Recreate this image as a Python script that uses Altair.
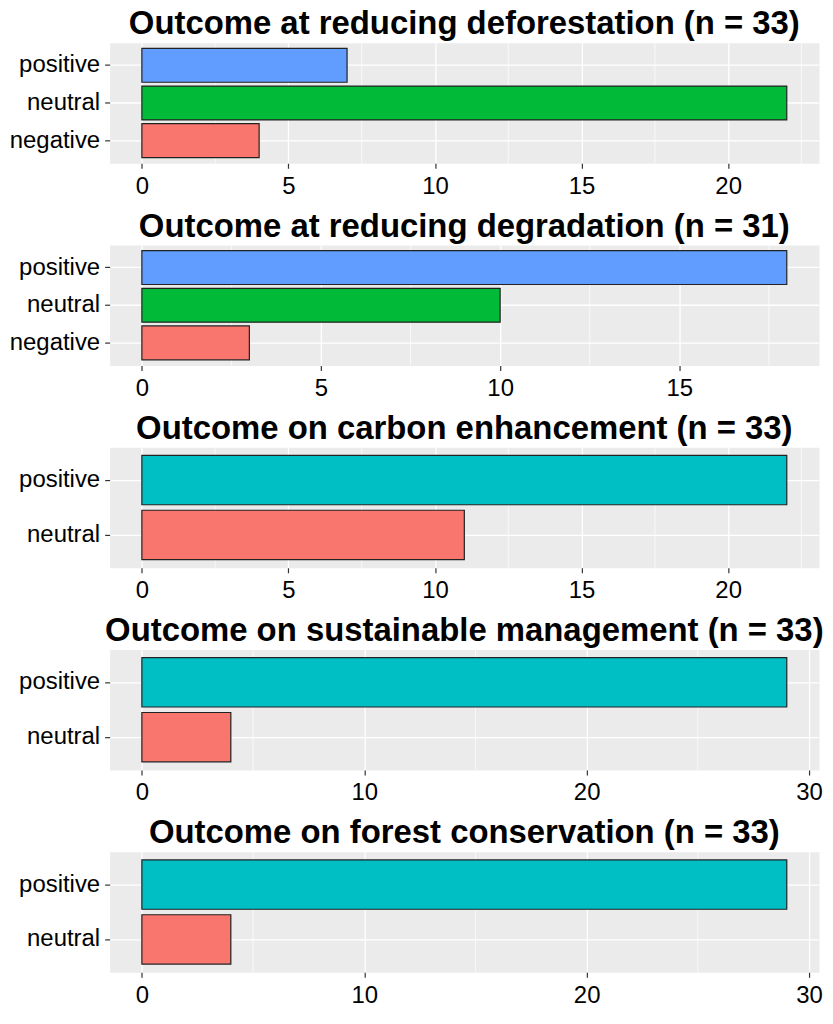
import altair as alt
import pandas as pd

titles = [
    "Outcome at reducing deforestation (n = 33)",
    "Outcome at reducing degradation (n = 31)",
    "Outcome on carbon enhancement (n = 33)",
    "Outcome on sustainable management (n = 33)",
    "Outcome on forest conservation (n = 33)",
]
categories = [
    ["positive", "neutral", "negative"],
    ["positive", "neutral", "negative"],
    ["positive", "neutral"],
    ["positive", "neutral"],
    ["positive", "neutral"],
]
values = [
    [7, 22, 4],
    [18, 10, 3],
    [22, 11],
    [29, 4],
    [29, 4],
]
colors = [
    ["#619CFF", "#00BA38", "#F8766D"],
    ["#619CFF", "#00BA38", "#F8766D"],
    ["#00BFC4", "#F8766D"],
    ["#00BFC4", "#F8766D"],
    ["#00BFC4", "#F8766D"],
]
major_ticks = [
    [0, 5, 10, 15, 20],
    [0, 5, 10, 15],
    [0, 5, 10, 15, 20],
    [0, 10, 20, 30],
    [0, 10, 20, 30],
]
minor_ticks = [
    [2.5, 7.5, 12.5, 17.5, 22.5],
    [2.5, 7.5, 12.5, 17.5],
    [2.5, 7.5, 12.5, 17.5, 22.5],
    [5, 15, 25],
    [5, 15, 25],
]

FONT = "Liberation Sans"
SPACING = 11
PANEL_W = 712
PANEL_H = 121


def panel(i):
    df = pd.DataFrame({"outcome": categories[i], "count": values[i]})
    vmax = max(values[i])
    xs = alt.Scale(domain=[-0.05 * vmax, 1.05 * vmax], nice=False, zero=False)
    ys = alt.Scale(domain=categories[i], paddingInner=0.1, paddingOuter=0.15)
    xaxis = alt.Axis(
        values=major_ticks[i], title=None, grid=True, format="d",
        labelPadding=6, tickSize=5,
    )
    minor = alt.Chart(pd.DataFrame({"m": minor_ticks[i]})).mark_rule(
        color="white", strokeWidth=0.7
    ).encode(x=alt.X("m:Q", scale=xs, axis=xaxis))
    bars = alt.Chart(df).mark_bar(stroke="#222222", strokeWidth=1.2).encode(
        x=alt.X("count:Q", scale=xs, axis=xaxis),
        y=alt.Y(
            "outcome:N",
            scale=ys,
            sort=categories[i],
            axis=alt.Axis(title=None, grid=True, labelPadding=5, tickSize=5),
        ),
        color=alt.Color(
            "outcome:N",
            scale=alt.Scale(domain=categories[i], range=colors[i]),
            legend=None,
        ),
    )
    return alt.layer(minor, bars).properties(
        width=PANEL_W,
        height=PANEL_H,
        title=alt.TitleParams(
            titles[i], font=FONT, fontSize=33, fontWeight="bold", color="black",
            anchor="middle", frame="group", baseline="top", offset=1,
        ),
    )


chart = alt.vconcat(*[panel(i) for i in range(5)], spacing=SPACING).resolve_scale(
    color="independent", x="independent", y="independent"
).properties(
    padding={"left": 0, "top": -2, "right": 0, "bottom": -4}
).configure_view(
    fill="#EBEBEB", stroke="transparent"
).configure_axis(
    labelFont=FONT, labelFontSize=24, labelColor="black", tickColor="#333333",
    tickWidth=1.2, domain=False, gridColor="white", gridWidth=1.3,
)

chart.save("out.html", embed_options={"renderer": "svg", "actions": False})
